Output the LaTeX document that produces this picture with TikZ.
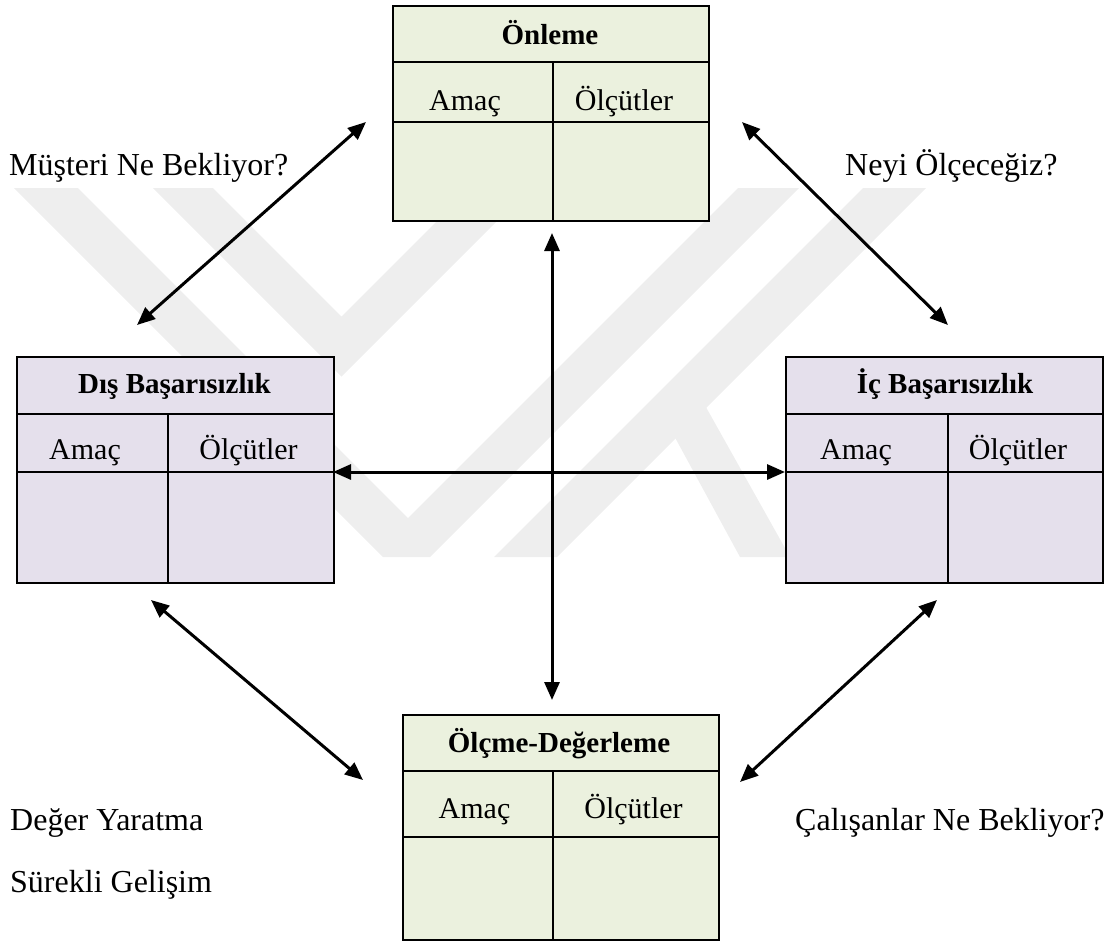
\documentclass[tikz,border=0pt]{standalone}
\usepackage{fontspec}
\setmainfont{Liberation Serif}
\usetikzlibrary{arrows.meta}

\definecolor{greenfill}{RGB}{235,241,222}
\definecolor{purplefill}{RGB}{229,224,236}
\definecolor{markgray}{RGB}{238,238,238}

\tikzset{
  card/.style={draw=black, line width=2.2pt, inner sep=0pt, anchor=north west},
  rule/.style={line width=1.8pt},
  link/.style={line width=3pt,
    {Triangle[length=18pt,width=15pt]}-{Triangle[length=18pt,width=15pt]}},
  title/.style={font=\fontsize{29}{35}\selectfont\bfseries, anchor=base, inner sep=0pt},
  cell/.style={font=\fontsize{30}{36}\selectfont, anchor=base, inner sep=0pt},
  caption/.style={font=\fontsize{32}{38}\selectfont, anchor=base west, inner sep=0pt},
  stripe/.style={fill=markgray, draw=none},
}

\begin{document}
\begin{tikzpicture}[x=1pt, y=-1pt]
\useasboundingbox (0,0) rectangle (1114,943);

% faint background emblem made of diagonal stripes
\fill[stripe] (14,188) -- (78,188) -- (408,518) -- (738,188) -- (799,188)
  -- (430,557) -- (383,557) -- cycle;
\fill[stripe] (153,188) -- (213,188) -- (341.5,316.5) -- (470,188) -- (530,188)
  -- (341.5,376.5) -- cycle;
\fill[stripe] (494,557) -- (557,557) -- (926,188) -- (863,188) -- cycle;
\fill[stripe] (672,432) -- (702,400) -- (790,557) -- (740,557) -- cycle;

% Önleme
\node[card, fill=greenfill, minimum width=316pt, minimum height=215pt] (onl) at (392,5) {};
\draw[rule] (392,62) -- (708,62);
\draw[rule] (392,122) -- (708,122);
\draw[rule] (553,62) -- (553,220);
\node[title] (onl-t) at (550,44) {Önleme};
\node[cell] (onl-a) at (465,110) {Amaç};
\node[cell] (onl-o) at (624,110) {Ölçütler};

% Dış Başarısızlık
\node[card, fill=purplefill, minimum width=317pt, minimum height=226pt] (dis) at (16,356) {};
\draw[rule] (16,414) -- (333,414);
\draw[rule] (16,472) -- (333,472);
\draw[rule] (168,414) -- (168,582);
\node[title] (dis-t) at (174.5,393) {Dış Başarısızlık};
\node[cell] (dis-a) at (85,459) {Amaç};
\node[cell] (dis-o) at (248.5,459) {Ölçütler};

% İç Başarısızlık
\node[card, fill=purplefill, minimum width=317pt, minimum height=226pt] (ic) at (785,356) {};
\draw[rule] (785,414) -- (1102,414);
\draw[rule] (785,472) -- (1102,472);
\draw[rule] (948,414) -- (948,582);
\node[title] (ic-t) at (945,393) {İç Başarısızlık};
\node[cell] (ic-a) at (856,459) {Amaç};
\node[cell] (ic-o) at (1018,459) {Ölçütler};

% Ölçme-Değerleme
\node[card, fill=greenfill, minimum width=316pt, minimum height=225pt] (olc) at (402,714) {};
\draw[rule] (402,771) -- (718,771);
\draw[rule] (402,837) -- (718,837);
\draw[rule] (553,771) -- (553,939);
\node[title] (olc-t) at (559,752) {Ölçme-Değerleme};
\node[cell] (olc-a) at (474.5,818) {Amaç};
\node[cell] (olc-o) at (633.5,818) {Ölçütler};

% free labels
\node[caption] (q1) at (9,175) {Müşteri Ne Bekliyor?};
\node[caption] (q2) at (845,175) {Neyi Ölçeceğiz?};
\node[caption] (q3) at (10,830) {Değer Yaratma};
\node[caption] (q4) at (10,892) {Sürekli Gelişim};
\node[caption] (q5) at (795,830) {Çalışanlar Ne Bekliyor?};

% connector end points
\coordinate (vt) at (552,233);
\coordinate (vb) at (552,700);
\coordinate (hl) at (333,472);
\coordinate (hr) at (785,472);
\coordinate (tl1) at (366,122);
\coordinate (tl2) at (137,325);
\coordinate (tr1) at (742,122);
\coordinate (tr2) at (948,325);
\coordinate (bl1) at (151,600);
\coordinate (bl2) at (363,780);
\coordinate (br1) at (937,600);
\coordinate (br2) at (740,782);

% connectors
\draw[link] (vt) -- (vb);
\draw[link] (hl) -- (hr);
\draw[link] (tl1) -- (tl2);
\draw[link] (tr1) -- (tr2);
\draw[link] (bl1) -- (bl2);
\draw[link] (br1) -- (br2);
\end{tikzpicture}
\end{document}
